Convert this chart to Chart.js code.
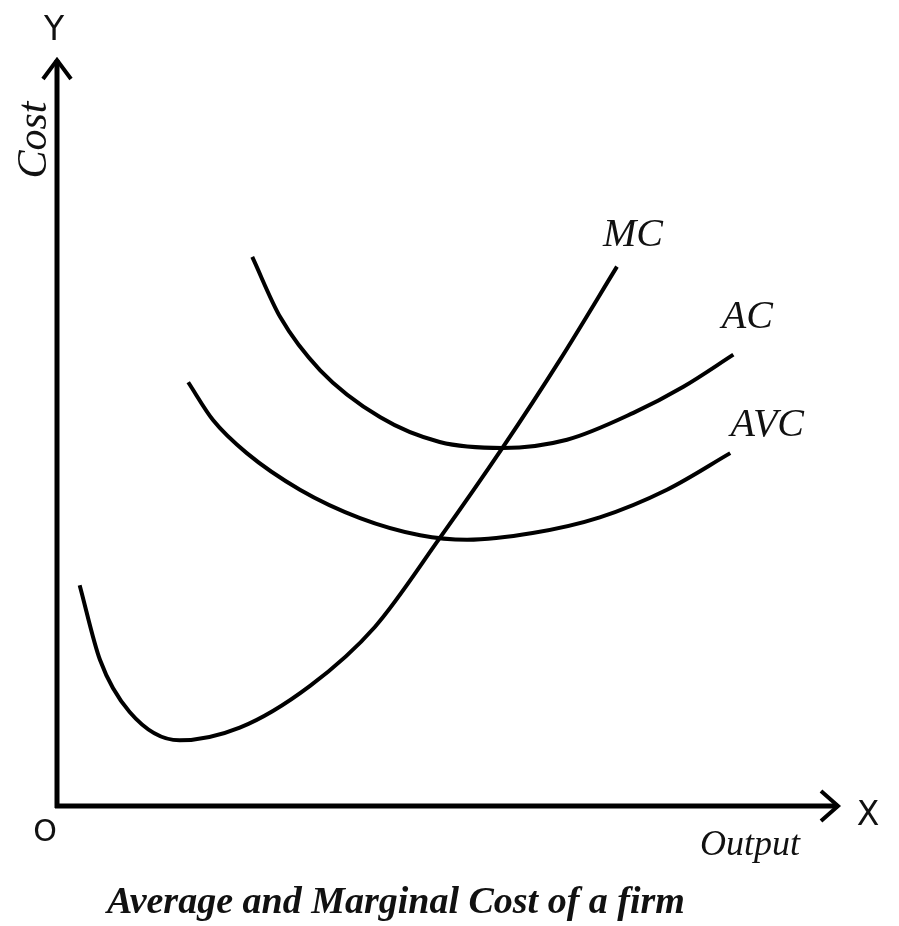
<!DOCTYPE html>
<html>
<head>
<meta charset="utf-8">
<script src="https://cdn.jsdelivr.net/npm/chart.js@4"></script>
<style>
  body { margin: 0; background: #fff; }
  #wrap { width: 899px; height: 926px; position: relative; }
</style>
</head>
<body>
<div id="wrap"><canvas id="chart"></canvas></div>
<script>
// Curves (output on x, cost on y, both 0..100)
const mcX  = [2.9, 5.5, 9.3, 15.7, 23.4, 32.4, 40.7, 49.0, 57.1, 64.4, 71.7];
const mcY  = [29.6, 19.6, 12.6, 8.8, 10.5, 16.1, 24.0, 35.9, 48.1, 59.8, 72.3];
const acX  = [25.0, 28.6, 33.7, 41.4, 49.0, 57.1, 65.3, 73.8, 80.2, 86.6];
const acY  = [73.6, 65.5, 58.4, 52.1, 48.8, 48.0, 49.1, 52.7, 56.2, 60.5];
const avcX = [16.8, 20.0, 24.3, 31.1, 38.8, 46.5, 52.5, 60.9, 69.5, 78.1, 86.2];
const avcY = [56.8, 51.7, 47.3, 42.4, 38.6, 36.3, 35.7, 36.6, 38.7, 42.4, 47.3];
const curveNames = ['MC', 'AC', 'AVC'];

const toPoints = (xs, ys) => xs.map((x, i) => ({ x: x, y: ys[i] }));

function curve(label, xs, ys) {
  return {
    label: label,
    data: toPoints(xs, ys),
    borderColor: '#000',
    borderWidth: 4,
    pointRadius: 0,
    cubicInterpolationMode: 'monotone',
    fill: false
  };
}

// axes with arrows, axis names and curve labels
const decor = {
  id: 'decor',
  afterDatasetsDraw(chart) {
    const ctx = chart.ctx;
    const xs = chart.scales.x, ys = chart.scales.y;
    const x0 = xs.getPixelForValue(0), y0 = ys.getPixelForValue(0);
    const xEnd = xs.getPixelForValue(100), yEnd = ys.getPixelForValue(100);
    ctx.save();
    ctx.strokeStyle = '#000';
    ctx.lineWidth = 5;
    ctx.beginPath();
    ctx.moveTo(x0, y0 + 2);
    ctx.lineTo(x0, yEnd);
    ctx.moveTo(x0 - 2, y0);
    ctx.lineTo(xEnd, y0);
    ctx.stroke();
    // arrow heads
    ctx.lineWidth = 4;
    ctx.beginPath();
    ctx.moveTo(x0 - 14, yEnd + 19);
    ctx.lineTo(x0, yEnd);
    ctx.lineTo(x0 + 14, yEnd + 19);
    ctx.moveTo(xEnd - 17, y0 - 15);
    ctx.lineTo(xEnd, y0);
    ctx.lineTo(xEnd - 17, y0 + 15);
    ctx.stroke();

    ctx.fillStyle = '#111';
    ctx.textAlign = 'center';
    ctx.textBaseline = 'middle';
    ctx.font = '33px "DejaVu Sans"';
    ctx.fillText('Y', x0 - 3, yEnd - 29);
    ctx.fillText('X', xEnd + 30, y0 + 10);
    ctx.font = '30px "DejaVu Sans"';
    ctx.fillText('O', x0 - 12, y0 + 27);

    ctx.font = 'italic 36px "Liberation Serif"';
    ctx.fillText('Output', 750, 846);
    ctx.save();
    ctx.translate(35, 140);
    ctx.rotate(-Math.PI / 2);
    ctx.font = 'italic 42px "Liberation Serif"';
    ctx.fillText('Cost', 0, 0);
    ctx.restore();

    // curve labels placed just past each curve's last point
    const offsets = [[16, -31], [14, -37], [37, -28]];
    ctx.font = 'italic 40px "Liberation Serif"';
    chart.data.datasets.forEach((ds, i) => {
      const last = ds.data[ds.data.length - 1];
      const px = xs.getPixelForValue(last.x) + offsets[i][0];
      const py = ys.getPixelForValue(last.y) + offsets[i][1];
      ctx.fillText(curveNames[i], px, py);
    });

    ctx.font = 'bold italic 38px "Liberation Serif"';
    ctx.fillText('Average and Marginal Cost of a firm', 396, 903);
    ctx.restore();
  }
};

new Chart(document.getElementById('chart'), {
  type: 'line',
  data: {
    datasets: [
      curve('MC', mcX, mcY),
      curve('AC', acX, acY),
      curve('AVC', avcX, avcY)
    ]
  },
  options: {
    responsive: true,
    maintainAspectRatio: false,
    animation: false,
    layout: { padding: { left: 57, right: 61, top: 60, bottom: 120 } },
    plugins: { legend: { display: false }, tooltip: { enabled: false } },
    scales: {
      x: { type: 'linear', min: 0, max: 100, display: false },
      y: { type: 'linear', min: 0, max: 100, display: false }
    }
  },
  plugins: [decor]
});
</script>
</body>
</html>
